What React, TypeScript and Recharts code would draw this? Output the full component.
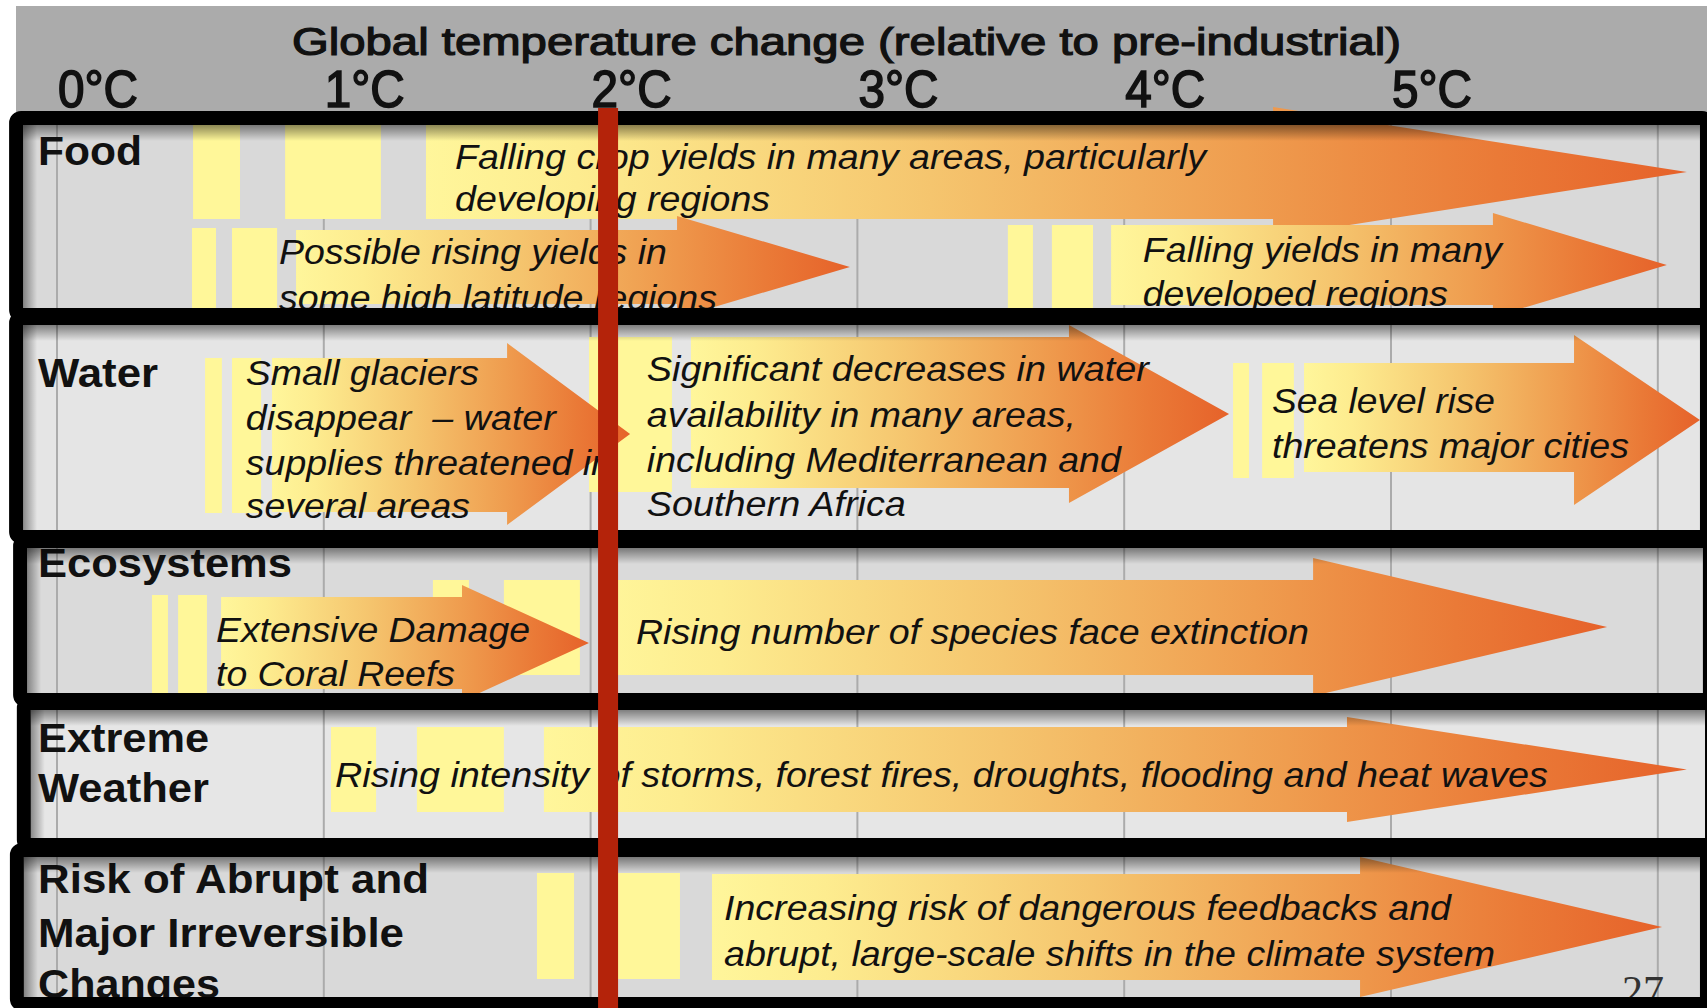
import { ComposedChart, XAxis, YAxis, ReferenceArea, Scatter, Label } from "recharts";

const W = 1707;
const H = 1008;
const HEADER = 112;
const FONT = "'Liberation Sans', Arial, sans-serif";

// temperature axis (°C above pre-industrial)
const TEMPS = [0, 1, 2, 3, 4, 5];
const TEMP_LABELS = ["0°C", "1°C", "2°C", "3°C", "4°C", "5°C"];
const GRID_TEMPS = [0, 1, 2, 3, 4, 5, 6];
const X_DOMAIN: [number, number] = [-0.2136, 6.1844];
const DEPTH_DOMAIN: [number, number] = [0, 896];
const TITLE = "Global temperature change (relative to pre-industrial)";
const GUARDRAIL: [number, number] = [2.028, 2.103];

// sectors (rows)
const SECTOR_LINES = [
  ["Food"],
  ["Water"],
  ["Ecosystems"],
  ["Extreme", "Weather"],
  ["Risk of Abrupt and", "Major Irreversible", "Changes"],
];
const SECTOR_SPAN = [
  [-0.127, 6.158],
  [-0.127, 6.158],
  [-0.112, 6.169],
  [-0.098, 6.177],
  [-0.124, 6.158],
];
const SECTOR_DEPTH = [
  [13, 196],
  [213, 418],
  [436, 581],
  [598, 726],
  [745, 885],
];
const SECTOR_LABEL_AT = -0.071;
const SECTOR_BASELINES = [[53], [275], [465], [640, 690], [781, 835, 886]];
const PAGE_NO = "27";
const PAGE_NO_AT: [number, number] = [5.866, 893];

// pale yellow onset strips: sector, from °C, to °C, top, bottom
const ONSETS: number[][] = [
  [0, 0.51, 0.686, 13, 107],
  [0, 0.855, 1.214, 13, 107],
  [0, 0.506, 0.596, 116, 196],
  [0, 0.656, 0.825, 116, 196],
  [0, 3.564, 3.658, 113, 196],
  [0, 3.729, 3.883, 113, 196],
  [1, 0.555, 0.618, 246, 401],
  [1, 0.656, 0.765, 246, 401],
  [1, 1.994, 2.305, 225, 380],
  [1, 4.408, 4.468, 251, 366],
  [1, 4.517, 4.636, 251, 366],
  [2, 0.356, 0.416, 483, 581],
  [2, 0.454, 0.562, 483, 581],
  [2, 1.409, 1.544, 468, 568],
  [2, 1.675, 1.96, 468, 563],
  [3, 1.027, 1.196, 615, 700],
  [3, 1.349, 1.675, 615, 700],
  [4, 1.799, 1.938, 761, 867],
  [4, 2.035, 2.335, 761, 867],
];

interface Impact {
  sector: number;
  lines: string[];
  textAt: number;
  baselines: number[];
  start: number;
  headAt: number;
  tip: number;
  body: [number, number];
  head: [number, number];
}

const IMPACTS: Impact[] = [
  { sector: 0, lines: ["Falling crop yields in many areas, particularly", "developing regions"], textAt: 1.492, baselines: [57, 99], start: 1.383, headAt: 4.558, tip: 6.109, body: [10, 107], head: [-5, 125] },
  { sector: 0, lines: ["Possible rising yields in", "some high latitude regions"], textAt: 0.832, baselines: [152, 198], start: 0.896, headAt: 2.324, tip: 2.972, body: [118, 192], head: [104, 206] },
  { sector: 0, lines: ["Falling yields in many", "developed regions"], textAt: 4.07, baselines: [150, 194], start: 3.951, headAt: 5.382, tip: 6.034, body: [113, 193], head: [101, 205] },
  { sector: 1, lines: ["Small glaciers", "disappear  – water", "supplies threatened in", "several areas"], textAt: 0.708, baselines: [273, 318, 363, 406], start: 0.806, headAt: 1.687, tip: 2.148, body: [246, 400], head: [231, 413] },
  { sector: 1, lines: ["Significant decreases in water", "availability in many areas,", "including Mediterranean and", "Southern Africa"], textAt: 2.211, baselines: [269, 315, 360, 404], start: 2.376, headAt: 3.793, tip: 4.393, body: [225, 376], head: [213, 391] },
  { sector: 1, lines: ["Sea level rise", "threatens major cities"], textAt: 4.554, baselines: [301, 346], start: 4.674, headAt: 5.686, tip: 6.158, body: [251, 360], head: [223, 393] },
  { sector: 2, lines: ["Extensive Damage", "to Coral Reefs"], textAt: 0.596, baselines: [530, 574], start: 0.615, headAt: 1.518, tip: 1.994, body: [485, 577], head: [473, 589] },
  { sector: 2, lines: ["Rising number of species face extinction"], textAt: 2.17, baselines: [532], start: 2.035, headAt: 4.708, tip: 5.81, body: [468, 563], head: [446, 584] },
  { sector: 3, lines: ["Rising intensity of storms, forest fires, droughts, flooding and heat waves"], textAt: 1.042, baselines: [675], start: 1.825, headAt: 4.835, tip: 6.109, body: [615, 700], head: [605, 710] },
  { sector: 4, lines: ["Increasing risk of dangerous feedbacks and", "abrupt, large-scale shifts in the climate system"], textAt: 2.5, baselines: [808, 854], start: 2.455, headAt: 4.884, tip: 6.016, body: [762, 868], head: [745, 885] },
];

// styling: fitted line widths (px), fills
const LINE_WIDTH: Record<string, number> = {
  "Falling crop yields in many areas, particularly": 751,
  "developing regions": 315,
  "Possible rising yields in": 388,
  "some high latitude regions": 438,
  "Falling yields in many": 359,
  "developed regions": 305,
  "Small glaciers": 233,
  "disappear  – water": 310,
  "supplies threatened in": 366,
  "several areas": 224,
  "Significant decreases in water": 502,
  "availability in many areas,": 429,
  "including Mediterranean and": 474,
  "Southern Africa": 259,
  "Sea level rise": 223,
  "threatens major cities": 357,
  "Extensive Damage": 314,
  "to Coral Reefs": 239,
  "Rising number of species face extinction": 673,
  "Rising intensity of storms, forest fires, droughts, flooding and heat waves": 1213,
  "Increasing risk of dangerous feedbacks and": 727,
  "abrupt, large-scale shifts in the climate system": 771,
  Food: 104,
  Water: 120,
  Ecosystems: 254,
  Extreme: 171,
  Weather: 171,
  "Risk of Abrupt and": 391,
  "Major Irreversible": 366,
  Changes: 182,
};
const SECTOR_FILL = ["#d9d9d9", "#e5e5e5", "#dadada", "#e6e6e6", "#d9d9d9"];
const ONSET_FILL = "#fff799";
const HEAT_STOPS = [
  [0, "#fff69b"],
  [0.12, "#fdec8f"],
  [0.4, "#f5c56e"],
  [0.65, "#ef9d4f"],
  [0.85, "#ea7a37"],
  [1, "#e6622a"],
];

const lerp = (a: number, b: number, pa: number, len: number) => (v: number) =>
  pa + ((v - a) / (b - a)) * len;

const TempTick = (p: any) => {
  const i = TEMPS.indexOf(p.payload.value);
  return (
    <text x={p.x + 1} y={p.y} fontFamily={FONT} fontSize={51} fill="#111" stroke="#111" strokeWidth={1.6} textLength={80} lengthAdjust="spacingAndGlyphs">
      {TEMP_LABELS[i]}
    </text>
  );
};

const TitleLabel = (p: any) => {
  const vb = p.viewBox ?? { x: 0, y: 0, width: W, height: HEADER };
  return (
    <text x={vb.x + vb.width / 2 - 7} y={vb.y + 55} textAnchor="middle" fontFamily={FONT} fontSize={38} fill="#111" stroke="#111" strokeWidth={1.2} textLength={1109} lengthAdjust="spacingAndGlyphs">
      {TITLE}
    </text>
  );
};

const sectorShape = (s: number) => (p: any) => {
  const { x, y, width, height } = p;
  const [t0, t1] = SECTOR_SPAN[s];
  const [d0, d1] = SECTOR_DEPTH[s];
  const px = lerp(t0, t1, x, width);
  const py = lerp(d0, d1, y, height);
  return (
    <g>
      <rect x={x} y={y} width={width} height={height} fill={SECTOR_FILL[s]} />
      {GRID_TEMPS.map((g) => (
        <line key={g} x1={px(g)} x2={px(g)} y1={y} y2={y + height} stroke="#ababab" strokeWidth={2} />
      ))}
      {SECTOR_LINES[s].map((ln, k) => (
        <text key={ln} x={px(SECTOR_LABEL_AT)} y={py(SECTOR_BASELINES[s][k])} fontFamily={FONT} fontWeight="bold" fontSize={41} fill="#111" textLength={LINE_WIDTH[ln]} lengthAdjust="spacingAndGlyphs">
          {ln}
        </text>
      ))}
      {s === SECTOR_LINES.length - 1 && (
        <text x={px(PAGE_NO_AT[0])} y={py(PAGE_NO_AT[1])} fontFamily="'Liberation Serif', serif" fontSize={42} fill="#333">
          {PAGE_NO}
        </text>
      )}
    </g>
  );
};

const frameShape = (s: number) => (p: any) => {
  const { x, y, width, height } = p;
  return (
    <g>
      <defs>
        <linearGradient id={`shTop${s}`} x1="0" x2="0" y1="0" y2="1">
          <stop offset="0" stopColor="#000" stopOpacity={0.45} />
          <stop offset="1" stopColor="#000" stopOpacity={0} />
        </linearGradient>
        <linearGradient id={`shLeft${s}`} x1="0" x2="1" y1="0" y2="0">
          <stop offset="0" stopColor="#000" stopOpacity={0.4} />
          <stop offset="1" stopColor="#000" stopOpacity={0} />
        </linearGradient>
      </defs>
      <rect x={x} y={y} width={width} height={16} fill={`url(#shTop${s})`} />
      <rect x={x} y={y} width={14} height={height} fill={`url(#shLeft${s})`} />
      <rect x={x - 7} y={y - 7} width={width + 14} height={height + 14} rx={5} fill="none" stroke="#000" strokeWidth={14} />
    </g>
  );
};

const arrowShape = (a: Impact, i: number) => (p: any) => {
  const { x, y, width, height } = p;
  const px = lerp(a.start, a.tip, x, width);
  const py = lerp(a.head[0], a.head[1], y, height);
  const mid = y + height / 2;
  const pts = [
    [px(a.start), py(a.body[0])],
    [px(a.headAt), py(a.body[0])],
    [px(a.headAt), py(a.head[0])],
    [px(a.tip), mid],
    [px(a.headAt), py(a.head[1])],
    [px(a.headAt), py(a.body[1])],
    [px(a.start), py(a.body[1])],
  ];
  return (
    <g>
      <defs>
        <linearGradient id={`heat${i}`} x1="0" x2="1" y1="0" y2="0">
          {HEAT_STOPS.map(([o, c]) => (
            <stop key={o as number} offset={o as number} stopColor={c as string} />
          ))}
        </linearGradient>
      </defs>
      <polygon points={pts.map((q) => q.join(",")).join(" ")} fill={`url(#heat${i})`} />
    </g>
  );
};

const textShape = (a: Impact) => (p: any) => {
  const { x, y, width, height } = p;
  const px = lerp(a.start, a.tip, x, width);
  const py = lerp(a.head[0], a.head[1], y, height);
  return (
    <g>
      {a.lines.map((ln, k) => (
        <text key={ln} x={px(a.textAt)} y={py(a.baselines[k])} fontFamily={FONT} fontStyle="italic" fontSize={35} fill="#111" textLength={LINE_WIDTH[ln]} lengthAdjust="spacingAndGlyphs" style={{ whiteSpace: "pre" }}>
          {ln}
        </text>
      ))}
    </g>
  );
};

export default function App() {
  return (
    <div style={{ position: "absolute", left: 0, top: 0, width: W, height: H, background: "#fff", overflow: "hidden" }}>
      <div style={{ position: "absolute", left: 16, top: 6, width: W - 16, height: HEADER - 6, background: "#ababab" }} />
      <div style={{ position: "absolute", left: 0, top: 0 }}>
        <ComposedChart width={W} height={H} margin={{ top: 0, right: 0, bottom: 0, left: 0 }}>
          <XAxis
            type="number"
            dataKey="x"
            orientation="top"
            height={HEADER}
            domain={X_DOMAIN}
            ticks={TEMPS}
            interval={0}
            axisLine={false}
            tickLine={false}
            tickSize={0}
            tickMargin={5}
            tick={(p: any) => <TempTick {...p} />}
            allowDataOverflow
          >
            <Label content={TitleLabel} />
          </XAxis>
          <YAxis hide type="number" dataKey="y" domain={DEPTH_DOMAIN} reversed allowDataOverflow />

          {SECTOR_SPAN.map((sp, s) => (
            <ReferenceArea key={`bg${s}`} x1={sp[0]} x2={sp[1]} y1={SECTOR_DEPTH[s][0]} y2={SECTOR_DEPTH[s][1]} ifOverflow="visible" shape={sectorShape(s)} />
          ))}

          {ONSETS.map((o, i) => (
            <ReferenceArea key={`on${i}`} x1={o[1]} x2={o[2]} y1={o[3]} y2={o[4]} ifOverflow="visible" fill={ONSET_FILL} fillOpacity={1} stroke="none" />
          ))}

          {IMPACTS.map((a, i) => (
            <ReferenceArea key={`ar${i}`} x1={a.start} x2={a.tip} y1={a.head[0]} y2={a.head[1]} ifOverflow="visible" shape={arrowShape(a, i)} />
          ))}

          {IMPACTS.map((a, i) => (
            <ReferenceArea key={`tx${i}`} x1={a.start} x2={a.tip} y1={a.head[0]} y2={a.head[1]} ifOverflow="visible" shape={textShape(a)} />
          ))}

          {SECTOR_SPAN.map((sp, s) => (
            <ReferenceArea key={`fr${s}`} x1={sp[0]} x2={sp[1]} y1={SECTOR_DEPTH[s][0]} y2={SECTOR_DEPTH[s][1]} ifOverflow="visible" shape={frameShape(s)} />
          ))}

          <ReferenceArea x1={GUARDRAIL[0]} x2={GUARDRAIL[1]} y1={-4} y2={DEPTH_DOMAIN[1]} ifOverflow="visible" fill="#b4230a" fillOpacity={1} stroke="none" />

          <Scatter data={GRID_TEMPS.map((t) => ({ x: t, y: 0 }))} isAnimationActive={false} shape={() => <g />} />
        </ComposedChart>
      </div>
    </div>
  );
}
